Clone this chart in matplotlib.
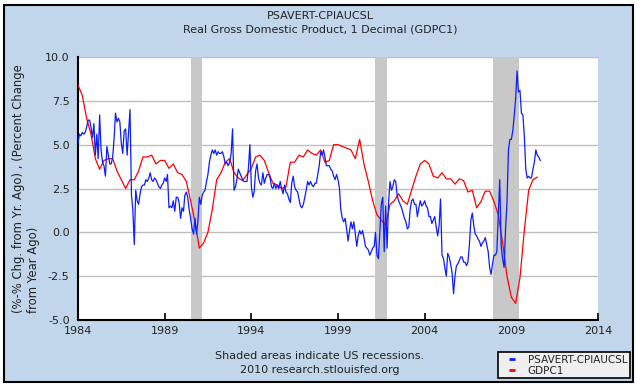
import matplotlib
matplotlib.use('Agg')
import matplotlib.pyplot as plt
from matplotlib.patches import Rectangle
from matplotlib.lines import Line2D
import pandas as pd

# ---------------- data ----------------
# PSAVERT - CPIAUCSL (% chg from yr ago), monthly from 1984-01
psavert_cpi = [
    5.1, 5.6, 5.5, 5.7, 5.6, 5.7, 6.0, 6.4, 6.4, 6.0, 5.4, 6.2,      # 1984
    4.4, 5.6, 4.2, 6.7, 4.7, 4.0, 3.8, 3.2, 4.9, 4.4, 3.9, 3.9,      # 1985
    4.3, 5.4, 6.8, 6.3, 6.5, 6.3, 5.1, 4.5, 5.8, 5.9, 4.4, 5.7,      # 1986
    7.0, 2.1, 1.3, -0.7, 2.4, 1.8, 1.6, 2.2, 2.6, 2.7, 2.7, 3.0,     # 1987
    2.9, 3.1, 3.4, 3.0, 2.9, 3.1, 3.0, 2.8, 2.6, 2.5, 2.7, 2.8,      # 1988
    3.1, 2.9, 3.3, 1.4, 1.5, 1.4, 1.8, 1.2, 2.0, 2.0, 1.7, 0.8,      # 1989
    1.4, 1.2, 2.1, 2.3, 2.0, 1.3, 0.8, 0.2, -0.1, 0.8, -0.1, 0.6,    # 1990
    2.0, 1.6, 2.1, 2.3, 2.4, 2.9, 3.3, 4.0, 4.4, 4.7, 4.5, 4.7,      # 1991
    4.4, 4.6, 4.5, 4.5, 4.6, 4.3, 3.9, 4.0, 3.8, 4.0, 4.5, 5.9,      # 1992
    2.4, 2.6, 3.0, 3.6, 3.4, 3.2, 3.0, 2.9, 2.9, 2.9, 3.7, 5.0,      # 1993
    2.6, 2.0, 2.3, 3.5, 3.9, 3.1, 2.8, 2.7, 3.4, 2.8, 3.1, 3.3,      # 1994
    3.3, 3.1, 2.6, 2.5, 2.8, 2.5, 2.7, 2.5, 2.9, 2.5, 2.2, 2.7,      # 1995
    2.3, 2.2, 1.9, 1.7, 2.8, 3.2, 2.6, 2.4, 2.3, 1.9, 1.5, 1.4,      # 1996
    1.6, 2.0, 2.4, 2.9, 2.7, 2.9, 2.7, 2.6, 2.8, 2.8, 3.3, 3.8,      # 1997
    4.6, 4.4, 4.7, 4.3, 3.8, 3.8, 3.8, 3.6, 3.5, 3.2, 3.0, 3.3,      # 1998
    3.0, 2.5, 1.3, 0.8, 0.6, 0.8, 0.2, -0.5, 0.1, 0.6, 0.2, 0.6,     # 1999
    -0.1, -0.8, -0.2, 0.1, -0.1, 0.1, -0.3, -0.8, -0.9, -1.0, -1.3, -1.1,  # 2000
    -0.9, -0.8, 0.0, -1.3, -1.5, 0.0, 1.6, 2.0, -1.1, 1.5, -0.9, 1.7,      # 2001
    2.9, 2.4, 2.6, 3.0, 2.9, 2.1, 1.8, 1.6, 1.4, 1.1, 0.8, 0.6,      # 2002
    0.2, 0.3, 1.3, 1.8, 1.9, 1.6, 1.6, 0.9, 1.4, 1.8, 1.5, 1.6,      # 2003
    1.8, 1.5, 1.4, 0.9, 0.9, 0.5, 0.7, 0.9, 0.3, -0.2, 0.4, 1.9,     # 2004
    -1.3, -1.5, -2.0, -2.5, -1.2, -1.4, -1.8, -2.3, -3.5, -2.5, -1.9, -1.8,  # 2005
    -1.6, -1.4, -1.4, -1.7, -1.7, -1.9, -1.7, -0.7, 0.7, 1.1, 0.4, -0.1,    # 2006
    -0.2, -0.4, -0.5, -0.8, -0.6, -0.5, -0.3, -0.7, -1.1, -2.0, -2.4, -1.8, # 2007
    -1.3, -1.3, -1.1, 1.0, 3.0, -0.8, -1.5, -2.0, 0.2, 1.7, 4.7, 5.3,       # 2008
    5.3, 5.8, 6.6, 7.6, 9.2, 8.0, 8.1, 6.8, 6.7, 5.5, 3.6, 3.1,      # 2009
    3.2, 3.1, 3.1, 3.6, 4.0, 4.7, 4.4, 4.3, 4.1,                     # 2010
]

# GDPC1 (% change from year ago), quarterly from 1984Q1
gdpc1 = [
    8.4, 7.8, 6.5, 5.6,     # 1984
    4.2, 3.6, 4.1, 4.2,     # 1985
    4.2, 3.5, 3.0, 2.5,     # 1986
    3.0, 3.0, 3.5, 4.3,     # 1987
    4.3, 4.4, 3.9, 4.1,     # 1988
    4.1, 3.65, 3.9, 3.4,    # 1989
    3.3, 2.9, 1.8, 0.6,     # 1990
    -0.9, -0.6, 0.0, 1.3,   # 1991
    3.0, 3.4, 4.0, 4.2,     # 1992
    3.4, 3.1, 2.95, 3.3,    # 1993
    3.65, 4.3, 4.4, 4.1,    # 1994
    3.4, 2.8, 2.7, 2.5,     # 1995
    2.6, 4.0, 4.0, 4.4,     # 1996
    4.3, 4.7, 4.5, 4.4,     # 1997
    4.7, 4.0, 4.1, 5.0,     # 1998
    5.0, 4.9, 4.8, 4.7,     # 1999
    4.2, 5.3, 3.9, 2.9,     # 2000
    1.8, 1.0, 0.7, 0.4,     # 2001
    1.6, 1.8, 2.2, 1.8,     # 2002
    1.6, 2.4, 3.2, 3.9,     # 2003
    4.1, 3.9, 3.2, 3.1,     # 2004
    3.4, 3.05, 3.05, 2.75,  # 2005
    3.05, 2.95, 2.3, 2.4,   # 2006
    1.4, 1.75, 2.35, 2.35,  # 2007
    1.75, 1.0, -0.6, -2.5,  # 2008
    -3.7, -4.05, -2.6, 0.1, # 2009
    2.4, 3.0, 3.15,         # 2010
]

recession_starts = ['1990-07-01', '2001-03-01', '2007-12-01']
recession_ends = ['1991-03-01', '2001-11-01', '2009-06-01']

tick_years = [1984, 1989, 1994, 1999, 2004, 2009, 2014]
y_ticks = [-5.0, -2.5, 0.0, 2.5, 5.0, 7.5, 10.0]
y_tick_labels = ['-5.0', '-2.5', '0.0', '2.5', '5.0', '7.5', '10.0']

series_labels = ['PSAVERT-CPIAUCSL', 'GDPC1']
title1 = 'PSAVERT-CPIAUCSL'
title2 = 'Real Gross Domestic Product, 1 Decimal (GDPC1)'
ylabel = '(%-% Chg. from Yr. Ago) , (Percent Change\nfrom Year Ago)'

BG = '#C1D6EA'
BLUE = '#0A1EFF'
RED = '#FF0000'
TXT = '#222222'

blue_dates = pd.date_range('1984-01-01', periods=len(psavert_cpi), freq='MS')
gdp_dates = pd.date_range('1984-01-01', periods=len(gdpc1), freq='QS')

W, H = 637, 386
fig = plt.figure(figsize=(W / 100, H / 100), dpi=100, facecolor='white')
fig.patches.append(Rectangle((3.5 / W, 4.5 / H), 629 / W, 376.5 / H,
                             transform=fig.transFigure, facecolor=BG,
                             edgecolor='black', lw=1.5, zorder=-10))

ax = fig.add_axes([78 / W, 66 / H, 520 / W, 263 / H])
ax.set_facecolor('white')
ax.set_axisbelow(True)
ax.yaxis.grid(True, color='#BEBEBE', lw=1.0)

for s, e in zip(recession_starts, recession_ends):
    ax.axvspan(pd.Timestamp(s), pd.Timestamp(e), color='#C8C8C8', lw=0, zorder=1)

ax.plot(gdp_dates, gdpc1, color=RED, lw=0.9, zorder=3)
ax.plot(blue_dates, psavert_cpi, color=BLUE, lw=0.9, zorder=4)

ax.set_xlim(pd.Timestamp('1984-01-01'), pd.Timestamp('2014-01-01'))
ax.set_ylim(-5, 10)
ax.set_xticks([pd.Timestamp(f'{y}-01-01') for y in tick_years])
ax.set_xticklabels([str(y) for y in tick_years])
ax.set_yticks(y_ticks)
ax.set_yticklabels(y_tick_labels)

ax.tick_params(axis='x', direction='in', length=5, width=1.2, color='black',
               labelsize=8, pad=4, labelcolor=TXT)
ax.tick_params(axis='y', length=0, labelsize=8, pad=6, labelcolor=TXT)
for sp in ['top', 'right']:
    ax.spines[sp].set_visible(False)
for sp in ['left', 'bottom']:
    ax.spines[sp].set_color('black')
    ax.spines[sp].set_linewidth(1.5)

fig.text(320 / W, 1 - 16 / H, title1, ha='center', va='center', fontsize=8, color=TXT)
fig.text(320 / W, 1 - 30 / H, title2, ha='center', va='center', fontsize=8, color=TXT)

fig.text(26.5 / W, 1 - 313 / H, ylabel, rotation=90, ha='center', va='bottom',
         multialignment='left', fontsize=8.4, color=TXT, linespacing=1.2)

fig.text(320 / W, 1 - 356 / H, 'Shaded areas indicate US recessions.',
         ha='center', va='center', fontsize=8, color=TXT)
fig.text(320 / W, 1 - 370 / H, '2010 research.stlouisfed.org',
         ha='center', va='center', fontsize=8, color=TXT)

handles = [Line2D([], [], color=BLUE, marker='_', markersize=5, mew=2, linestyle='None'),
           Line2D([], [], color=RED, marker='_', markersize=5, mew=2, linestyle='None')]
leg = fig.legend(handles, series_labels, loc='upper left',
                 bbox_to_anchor=(498 / W, 1 - 352 / H), fontsize=7.5,
                 frameon=True, fancybox=False, facecolor='#EFEFEF',
                 edgecolor='black', framealpha=1, handlelength=2.2,
                 handletextpad=0.4, borderpad=0.25, labelspacing=0.1,
                 borderaxespad=0)
leg.get_frame().set_linewidth(1.2)
for t in leg.get_texts():
    t.set_color(TXT)

fig.savefig('out.png', dpi=100, facecolor='white')
